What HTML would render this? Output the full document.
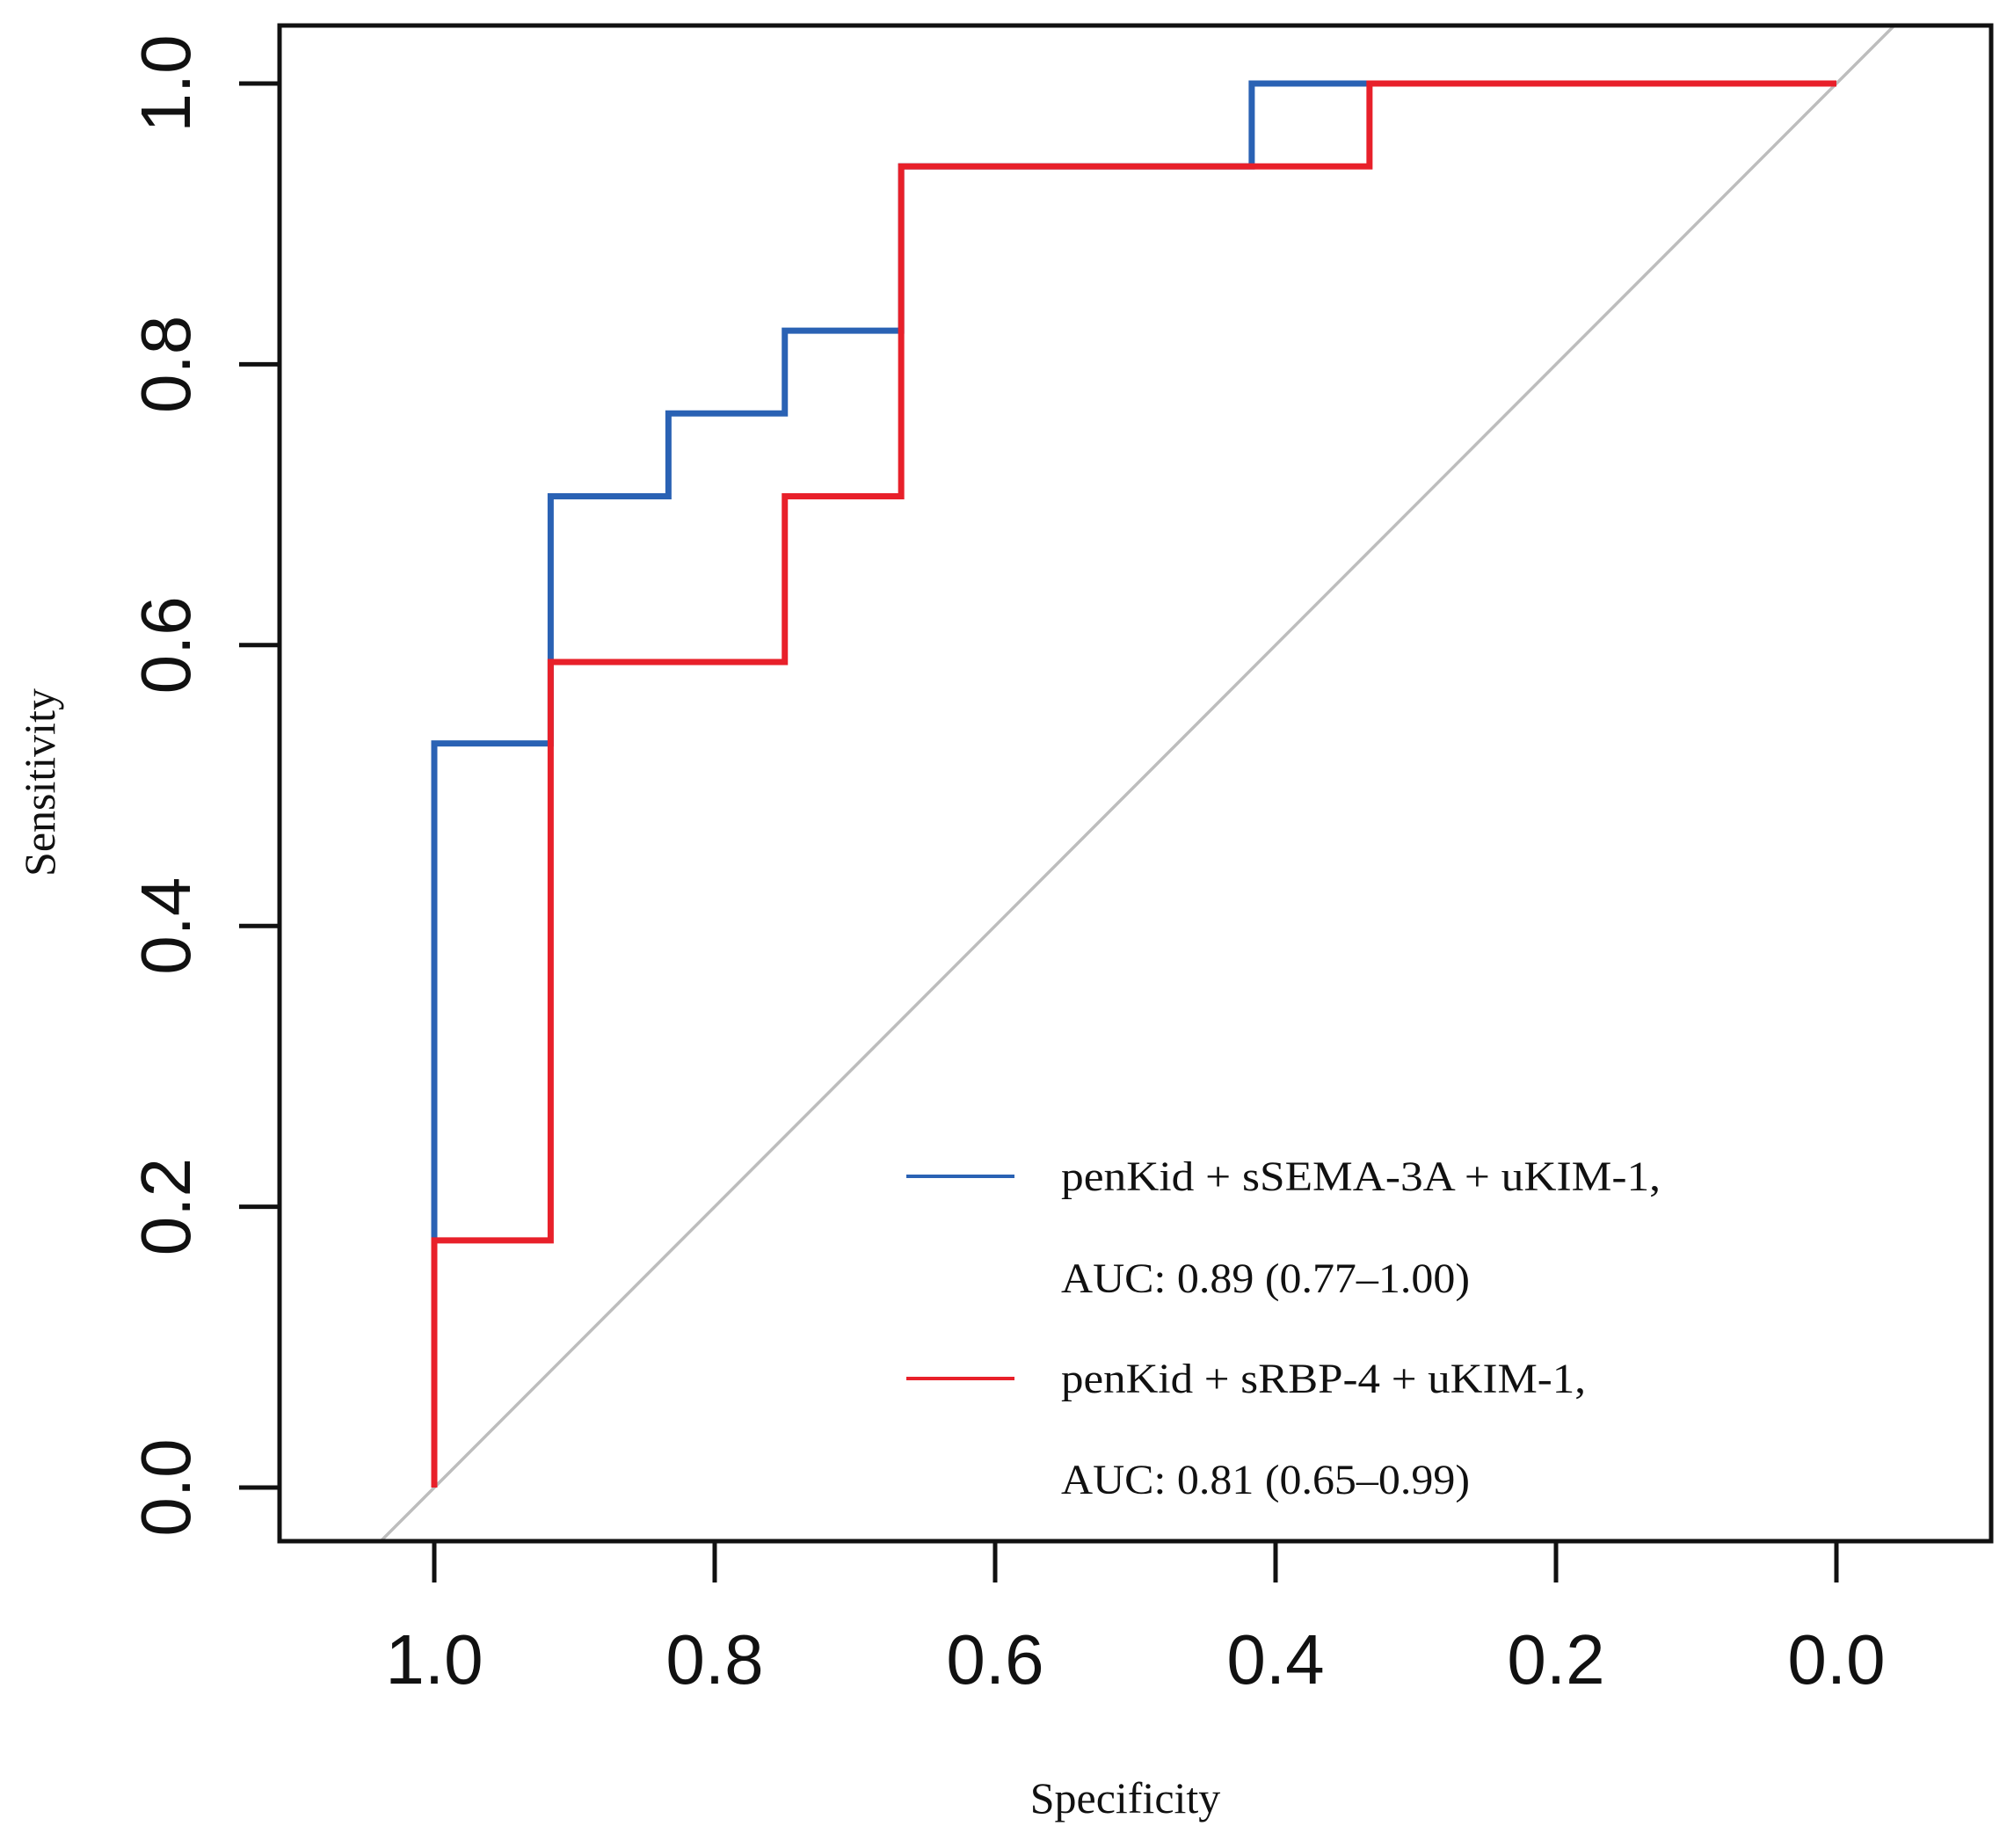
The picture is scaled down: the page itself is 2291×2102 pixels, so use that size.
<!DOCTYPE html>
<html><head><meta charset="utf-8"><style>html,body{margin:0;padding:0;background:#fff}</style></head>
<body>
<svg id="chart" xmlns="http://www.w3.org/2000/svg" width="2291" height="2097" viewBox="0 0 2291 2097" font-family="Liberation Sans, sans-serif">
<rect x="0" y="0" width="2291" height="2097" fill="#fff"/>
<g id="plot"></g>
</svg>
<script>
const xTicks = [1.0, 0.8, 0.6, 0.4, 0.2, 0.0];
const yTicks = [0.0, 0.2, 0.4, 0.6, 0.8, 1.0];
const tickLabels = ["1.0","0.8","0.6","0.4","0.2","0.0"];
const yTickLabels = ["0.0","0.2","0.4","0.6","0.8","1.0"];
const blueSpec = [1, 1, 0.917, 0.917, 0.833, 0.833, 0.75, 0.75, 0.667, 0.667, 0.417, 0.417, 0];
const blueSens = [0, 0.53, 0.53, 0.706, 0.706, 0.765, 0.765, 0.824, 0.824, 0.941, 0.941, 1, 1];
const redSpec = [1, 1, 0.917, 0.917, 0.75, 0.75, 0.667, 0.667, 0.333, 0.333, 0];
const redSens = [0, 0.176, 0.176, 0.588, 0.588, 0.706, 0.706, 0.941, 0.941, 1, 1];
const legendLines = ["penKid + sSEMA-3A + uKIM-1,", "AUC: 0.89 (0.77\u20131.00)", "penKid + sRBP-4 + uKIM-1,", "AUC: 0.81 (0.65\u20130.99)"];

const NS = "http://www.w3.org/2000/svg";
const g = document.getElementById('plot');
const box = {l:318, t:29, r:2265, b:1753};
const X = v => 2089 + (494 - 2089) * v;
const Y = v => 1692 + (95 - 1692) * v;
function mk(tag, attrs, parent) {
  const e = document.createElementNS(NS, tag);
  for (const k in attrs) e.setAttribute(k, attrs[k]);
  (parent || g).appendChild(e);
  return e;
}
const clip = mk('clipPath', {id:'bx'});
mk('rect', {x:box.l, y:box.t, width:box.r-box.l, height:box.b-box.t}, clip);
const diag = mk('line', {x1:X(1.1), y1:Y(-0.1), x2:X(-0.1), y2:Y(1.1), stroke:'#bdbdbd', 'stroke-width':3.5, 'clip-path':'url(#bx)'});



function curve(sx, sy, color, name) {
  const pts = sx.map((s, i) => X(s) + ',' + Y(sy[i])).join(' ');
  const p = mk('polyline', {points:pts, fill:'none', stroke:color, 'stroke-width':7, 'stroke-linejoin':'miter'});
  
  
}
curve(blueSpec, blueSens, '#2a62b4', 'roc-curve-sema');
curve(redSpec, redSens, '#e8202a', 'roc-curve-rbp');

const frame = mk('rect', {x:box.l, y:box.t, width:box.r-box.l, height:box.b-box.t, fill:'none', stroke:'#111', 'stroke-width':5});



xTicks.forEach((v, i) => {
  const t = mk('line', {x1:X(v), y1:box.b, x2:X(v), y2:1800, stroke:'#111', 'stroke-width':5});
  
  
  const l = mk('text', {x:X(v), y:1915, 'text-anchor':'middle', 'font-size':80, fill:'#111'});
  l.textContent = tickLabels[i];
  
  
});
yTicks.forEach((v, i) => {
  const t = mk('line', {x1:box.l, y1:Y(v), x2:272, y2:Y(v), stroke:'#111', 'stroke-width':5});
  
  
  const l = mk('text', {x:0, y:0, 'text-anchor':'middle', 'font-size':80, fill:'#111', transform:'translate(216,' + Y(v) + ') rotate(-90)'});
  l.textContent = yTickLabels[i];
  
  
});
const xt = mk('text', {x:1280, y:2062, 'text-anchor':'middle', 'font-size':50, 'font-family':'Liberation Serif, serif', fill:'#111'});
xt.textContent = 'Specificity';


const yt = mk('text', {x:0, y:0, 'text-anchor':'middle', 'font-size':50, 'font-family':'Liberation Serif, serif', fill:'#111', transform:'translate(62,890) rotate(-90)'});
yt.textContent = 'Sensitivity';



const legY = [1338, 1454, 1568, 1683];
const legColors = ['#2a62b4', null, '#e8202a', null];
const legWidths = [682, 465, 597, 465];
legendLines.forEach((txt, i) => {
  if (legColors[i]) {
    const ln = mk('line', {x1:1031, y1:legY[i], x2:1154, y2:legY[i], stroke:legColors[i], 'stroke-width':4});
    
    
  }
  const t = mk('text', {x:1207, y:legY[i] + 16, 'font-size':48, 'font-family':'Liberation Serif, serif', fill:'#111', textLength:legWidths[i], lengthAdjust:'spacingAndGlyphs'});
  t.textContent = txt;
  
  
});
</script>
</body></html>
